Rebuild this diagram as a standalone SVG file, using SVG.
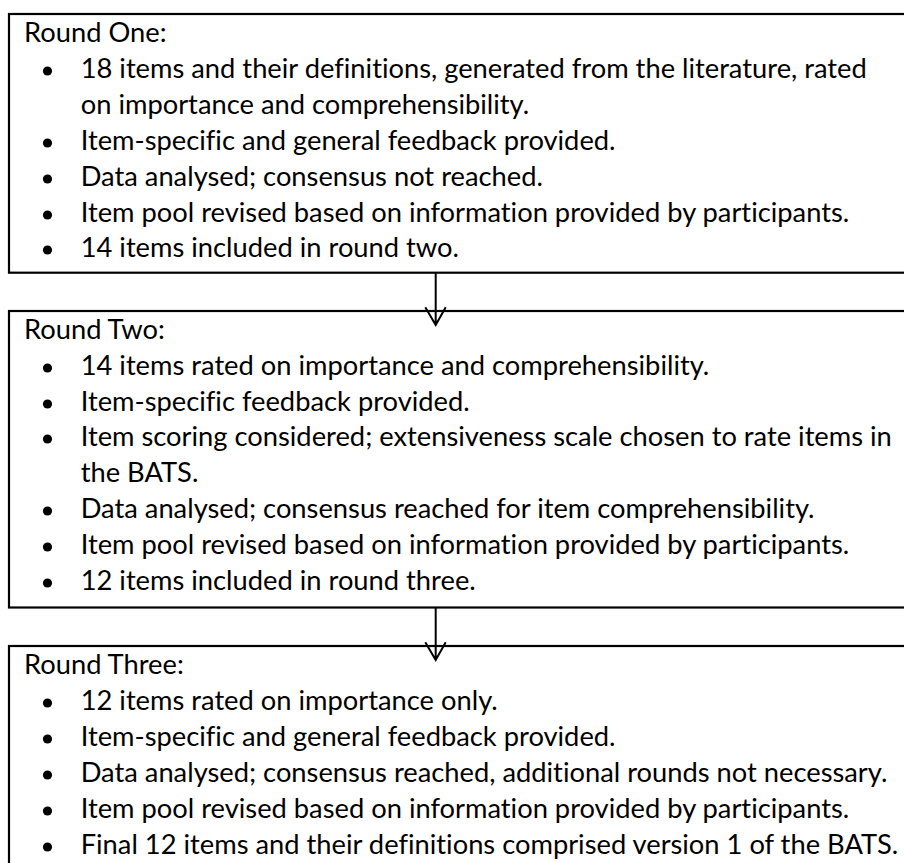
<svg xmlns="http://www.w3.org/2000/svg" width="904" height="863" viewBox="0 0 904 863">
<style>
.box{fill:none;stroke:#000;stroke-width:2.2}
.t{font-family:Lato,"Liberation Sans",sans-serif;font-size:27.3px;fill:#000;font-variant-ligatures:none}
.b{fill:#000}
.con{fill:none;stroke:#000;stroke-width:2}
</style>
<rect width="904" height="863" fill="#fff"/>
<g id="round-one">
<rect class="box" x="9" y="14" width="905" height="258.7"/>
<text class="t" x="24" y="42">Round One:</text>
<circle class="b" cx="47.5" cy="71" r="4.6"/>
<text class="t" x="80.7" y="78">18 items and their definitions, generated from the literature, rated</text>
<text class="t" x="80.7" y="114">on importance and comprehensibility.</text>
<circle class="b" cx="47.5" cy="143" r="4.6"/>
<text class="t" x="80.7" y="150">Item-specific and general feedback provided.</text>
<circle class="b" cx="47.5" cy="179" r="4.6"/>
<text class="t" x="80.7" y="186">Data analysed; consensus not reached.</text>
<circle class="b" cx="47.5" cy="215" r="4.6"/>
<text class="t" x="80.7" y="222">Item pool revised based on information provided by participants.</text>
<circle class="b" cx="47.5" cy="250" r="4.6"/>
<text class="t" x="80.7" y="257">14 items included in round two.</text>
</g>
<g id="round-two">
<rect class="box" x="9" y="311" width="905" height="296.5"/>
<text class="t" x="24" y="339">Round Two:</text>
<circle class="b" cx="47.5" cy="368" r="4.6"/>
<text class="t" x="80.7" y="375">14 items rated on importance and comprehensibility.</text>
<circle class="b" cx="47.5" cy="404" r="4.6"/>
<text class="t" x="80.7" y="411">Item-specific feedback provided.</text>
<circle class="b" cx="47.5" cy="439" r="4.6"/>
<text class="t" x="80.7" y="446">Item scoring considered; extensiveness scale chosen to rate items in</text>
<text class="t" x="80.7" y="482">the BATS.</text>
<circle class="b" cx="47.5" cy="511" r="4.6"/>
<text class="t" x="80.7" y="518">Data analysed; consensus reached for item comprehensibility.</text>
<circle class="b" cx="47.5" cy="547" r="4.6"/>
<text class="t" x="80.7" y="554">Item pool revised based on information provided by participants.</text>
<circle class="b" cx="47.5" cy="583" r="4.6"/>
<text class="t" x="80.7" y="590">12 items included in round three.</text>
</g>
<g id="round-three">
<rect class="box" x="9" y="646" width="905" height="230"/>
<text class="t" x="24" y="674">Round Three:</text>
<circle class="b" cx="47.5" cy="703" r="4.6"/>
<text class="t" x="80.7" y="710">12 items rated on importance only.</text>
<circle class="b" cx="47.5" cy="739" r="4.6"/>
<text class="t" x="80.7" y="746">Item-specific and general feedback provided.</text>
<circle class="b" cx="47.5" cy="775" r="4.6"/>
<text class="t" x="80.7" y="782">Data analysed; consensus reached, additional rounds not necessary.</text>
<circle class="b" cx="47.5" cy="811" r="4.6"/>
<text class="t" x="80.7" y="818">Item pool revised based on information provided by participants.</text>
<circle class="b" cx="47.5" cy="847" r="4.6"/>
<text class="t" x="80.7" y="854">Final 12 items and their definitions comprised version 1 of the BATS.</text>
</g>
<g id="connectors">
<path class="con" d="M435.7 272.7 V325 M425.3 307.3 L435.7 325 L445.7 307.3"/>
<path class="con" d="M435.7 607.5 V660 M425.3 642.3 L435.7 660 L445.7 642.3"/>
</g>
</svg>
